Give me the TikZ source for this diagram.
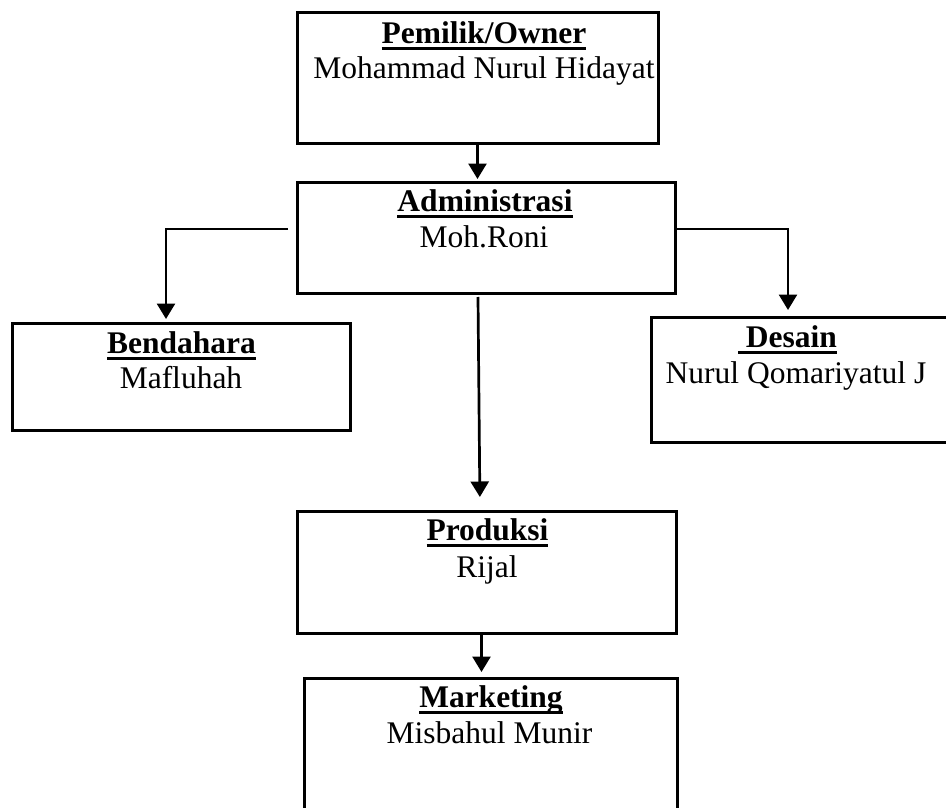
\documentclass[tikz,border=0pt]{standalone}
\usepackage{fontspec}
\setmainfont{Liberation Serif}
\usetikzlibrary{arrows.meta,calc}

% bold heading with a thick rule underneath
\newcommand\headline[1]{\setbox0\hbox{\bfseries #1}\rlap{\rule[-6.5pt]{\wd0}{3pt}}\box0}

\begin{document}
\begin{tikzpicture}[x=1pt,y=-1pt,
  orgbox/.style={draw, rectangle, line width=3pt, inner sep=0pt, outer sep=0pt},
  hd/.style={anchor=base, inner sep=0pt, font=\fontsize{31.5}{36}\selectfont},
  nm/.style={anchor=base, inner sep=0pt, font=\fontsize{31.5}{36}\selectfont},
  link/.style={line width=2.7pt, -{Triangle[width=18pt,length=15.5pt]}}]

\useasboundingbox (0,0) rectangle (946,808);
\clip (0,0) rectangle (946,808);

% boxes
\node[orgbox, minimum width=361pt, minimum height=130pt] (own) at (477.5,78) {};
\node[orgbox, minimum width=378pt, minimum height=111pt] (adm) at (486,237.5) {};
\node[orgbox, minimum width=338pt, minimum height=107.5pt] (ben) at (181,376.75) {};
\node[orgbox, minimum width=299pt, minimum height=125pt] (des) at (800.5,379.5) {};
\node[orgbox, minimum width=379pt, minimum height=122pt] (prod) at (486.5,572) {};
\node[orgbox, minimum width=373pt, minimum height=137pt] (mkt) at (490.5,746.5) {};

% texts
\node[hd] (ownH) at (484,44) {\headline{Pemilik/Owner}};
\node[nm] (ownN) at (484,78) {Mohammad Nurul Hidayat};
\node[hd] (admH) at (485,211) {\headline{Administrasi}};
\node[nm] (admN) at (484,247) {Moh.Roni};
\node[hd] (benH) at (181.5,353) {\headline{Bendahara}};
\node[nm] (benN) at (181,388) {Mafluhah};
\node[hd] (desH) at (787.5,347) {\headline{\ Desain}};
\node[nm] (desN) at (796,383) {Nurul Qomariyatul J};
\node[hd] (prodH) at (487.5,540) {\headline{Produksi}};
\node[nm] (prodN) at (487,577) {Rijal};
\node[hd] (mktH) at (491,707) {\headline{Marketing}};
\node[nm] (mktN) at (489.5,743) {Misbahul Munir};

% connector end points
\coordinate (admL) at (288,229);
\coordinate (benT) at (166,323);
\coordinate (admR) at ($(adm.north east)+(0,47)$);
\coordinate (desT) at (788,317);
\coordinate (admB) at (478,297);
\coordinate (prodT) at (480,511);
\coordinate (prodB) at (481.5,633);
\coordinate (mktT) at (481.5,678);

% connectors
\draw[link, shorten >=3pt] (own.south) -- (own.south |- adm.north);
\draw[link, shorten >=4pt] (admL) -| (benT);
\draw[link, shorten >=7pt] (admR) -| (desT);
\draw[link, shorten >=14pt] (admB) -- (prodT);
\draw[link, shorten >=6pt] (prodB) -- (mktT);
\end{tikzpicture}
\end{document}
